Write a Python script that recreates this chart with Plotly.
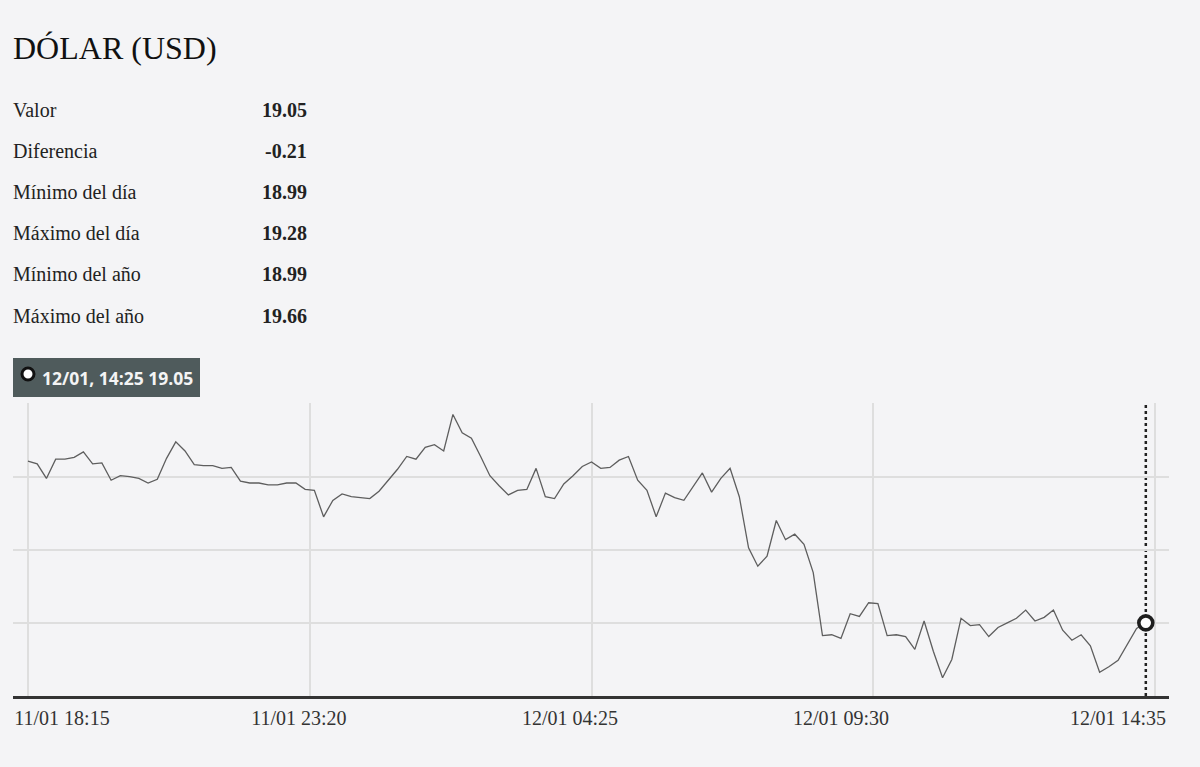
import pandas as pd
import plotly.graph_objects as go

# ---------------- data ----------------
title_text = "DÓLAR (USD)"
stat_labels = ["Valor", "Diferencia", "Mínimo del día", "Máximo del día",
               "Mínimo del año", "Máximo del año"]
stat_values = ["19.05", "-0.21", "18.99", "19.28", "18.99", "19.66"]

start_time = "2023-01-11 18:15"
step = "10min"
usd_values = [
    19.227, 19.224, 19.208, 19.229, 19.229, 19.231, 19.237, 19.224, 19.225, 19.206,
    19.211, 19.210, 19.208, 19.203, 19.207, 19.230, 19.248, 19.238, 19.223, 19.222,
    19.222, 19.219, 19.220, 19.205, 19.203, 19.203, 19.201, 19.201, 19.203, 19.203,
    19.196, 19.195, 19.166, 19.184, 19.191, 19.188, 19.187, 19.186, 19.194, 19.206,
    19.218, 19.232, 19.229, 19.242, 19.245, 19.238, 19.278, 19.258, 19.252, 19.232,
    19.211, 19.200, 19.190, 19.195, 19.196, 19.219, 19.188, 19.186, 19.202, 19.211,
    19.221, 19.226, 19.219, 19.220, 19.228, 19.232, 19.206, 19.195, 19.166, 19.192,
    19.187, 19.184, 19.199, 19.214, 19.193, 19.208, 19.219, 19.188, 19.132, 19.112,
    19.123, 19.162, 19.141, 19.147, 19.136, 19.105, 19.036, 19.037, 19.033, 19.060,
    19.057, 19.072, 19.071, 19.036, 19.037, 19.035, 19.021, 19.052, 19.019, 18.990,
    19.010, 19.055, 19.047, 19.048, 19.035, 19.045, 19.050, 19.055, 19.064, 19.052,
    19.056, 19.064, 19.042, 19.031, 19.037, 19.025, 18.996, 19.002, 19.009, 19.027,
    19.044, 19.050,
]
times = pd.date_range(start_time, periods=len(usd_values), freq=step)

grid_times = ["2023-01-11 18:15", "2023-01-11 23:20", "2023-01-12 04:25",
              "2023-01-12 09:30", "2023-01-12 14:35"]
tick_labels = ["11/01 18:15", "11/01 23:20", "12/01 04:25", "12/01 09:30", "12/01 14:35"]
tick_positions = ["2023-01-11 18:51:48", "2023-01-11 23:08:18", "2023-01-12 04:01:42",
                  "2023-01-12 08:55:06", "2023-01-12 13:54:54"]
y_grid = [18.97, 19.05, 19.13, 19.21, 19.29]

# ---------------- layout helpers ----------------
W, H = 1200, 767
ML, MR, MT, MB = 13, 31, 403, 71
PW, PH = W - ML - MR, H - MT - MB
BG = "#f4f4f6"
SERIF = "Liberation Serif, Times New Roman, serif"


def px(x):
    return (x - ML) / PW


def py(y):
    return (H - MB - y) / PH


x_start = pd.Timestamp(start_time) - pd.Timedelta(minutes=16.2)
x_end = pd.Timestamp(start_time) + pd.Timedelta(minutes=1235.1)

fig = go.Figure()
fig.add_trace(go.Scatter(
    x=times, y=usd_values, mode="lines",
    line=dict(color="#5e5e5e", width=1.3),
    hoverinfo="skip", showlegend=False,
))
fig.add_trace(go.Scatter(
    x=[times[-1]], y=[usd_values[-1]], mode="markers",
    marker=dict(symbol="circle", size=14, color="white",
                line=dict(color="#1e1e1e", width=3.6)),
    hoverinfo="skip", showlegend=False, cliponaxis=False,
))

annotations = [dict(
    text=title_text, xref="paper", yref="paper", x=px(11), y=py(48),
    xanchor="left", yanchor="middle", showarrow=False,
    font=dict(family=SERIF, size=32, color="#111111"),
)]
row_y = [110, 151, 192, 233, 274, 316]
for lab, val, yy in zip(stat_labels, stat_values, row_y):
    annotations.append(dict(
        text=lab, xref="paper", yref="paper", x=px(11), y=py(yy),
        xanchor="left", yanchor="middle", showarrow=False,
        font=dict(family=SERIF, size=20, color="#222222"),
    ))
    annotations.append(dict(
        text="<b>" + val + "</b>", xref="paper", yref="paper", x=px(309), y=py(yy),
        xanchor="right", yanchor="middle", showarrow=False,
        font=dict(family=SERIF, size=20, color="#222222"),
    ))

tooltip = f"{times[-1]:%d/%m, %H:%M} {usd_values[-1]:.2f}"
annotations.append(dict(
    text="<b>" + tooltip + "</b>", xref="paper", yref="paper", x=px(40), y=py(378),
    xanchor="left", yanchor="middle", showarrow=False,
    font=dict(family="Open Sans, sans-serif", size=17.5, color="#f4f4f4"),
))

shapes = [
    dict(type="rect", xref="paper", yref="paper", x0=0, x1=px(200),
         y0=py(397), y1=py(358), fillcolor="#4f5b5c", line=dict(width=0), layer="above"),
    dict(type="circle", xref="paper", yref="paper",
         xsizemode="pixel", ysizemode="pixel",
         xanchor=px(28), yanchor=py(374), x0=-6, x1=6, y0=-6, y1=6,
         fillcolor="white", line=dict(color="#111111", width=3), layer="above"),
    dict(type="line", xref="x", yref="paper", x0=times[-1], x1=times[-1], y0=0, y1=1,
         line=dict(color="#222222", width=2.5, dash="dot"), layer="between"),
]

fig.update_layout(
    width=W, height=H,
    margin=dict(l=ML, r=MR, t=MT, b=MB, pad=0),
    paper_bgcolor=BG, plot_bgcolor=BG,
    showlegend=False,
    annotations=annotations,
    shapes=shapes,
    xaxis=dict(
        type="date", range=[x_start, x_end], fixedrange=True,
        tickmode="array", tickvals=tick_positions, ticktext=tick_labels,
        showgrid=False, zeroline=False,
        showline=True, linecolor="#333333", linewidth=2.5,
        ticks="", ticklabelstandoff=2,
        tickfont=dict(family=SERIF, size=20, color="#333333"),
        minor=dict(tickmode="array", tickvals=grid_times, showgrid=True,
                   gridcolor="#dedede", gridwidth=2, ticks=""),
    ),
    yaxis=dict(
        range=[18.97, 19.2905], fixedrange=True,
        tickmode="array", tickvals=y_grid, showticklabels=False,
        showgrid=True, gridcolor="#dedede", gridwidth=1.5,
        zeroline=False, showline=False, ticks="",
    ),
)

fig.write_html(
    "out.html",
    config={"displayModeBar": False},
    post_script="document.body.style.margin='0';document.body.style.background='%s';" % BG,
)
